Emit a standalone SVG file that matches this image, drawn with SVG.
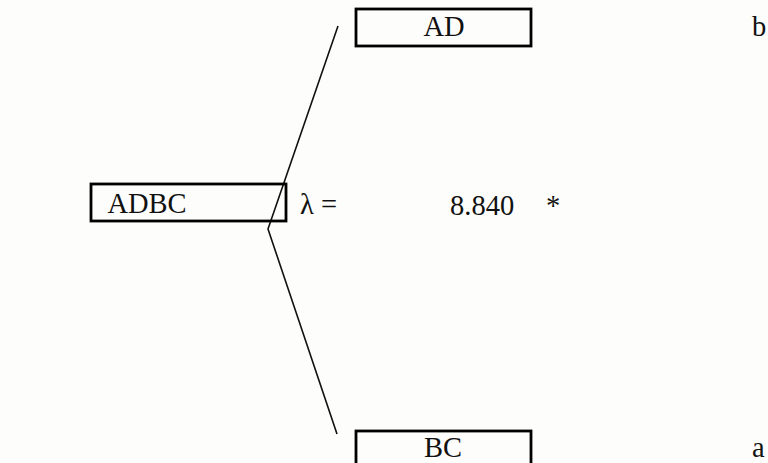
<svg xmlns="http://www.w3.org/2000/svg" width="768" height="463" viewBox="0 0 768 463">
<style>
.box{fill:none;stroke:#000;stroke-width:2.8}
.t{font-family:"Liberation Serif","Times New Roman",serif;font-size:28.5px;fill:#111}
.c{text-anchor:middle}
.ln{fill:none;stroke:#111;stroke-width:1.6}
</style>
<rect width="768" height="463" fill="#fdfdfb"/>
<g id="connectors">
<polyline class="ln" points="338,26 268,229 337,434"/>
</g>
<g id="node-ADBC">
<rect class="box" x="91" y="184" width="195" height="37"/>
<text class="t c" x="147" y="213">ADBC</text>
</g>
<g id="node-AD">
<rect class="box" x="356" y="9" width="175" height="37"/>
<text class="t c" x="444" y="36">AD</text>
</g>
<g id="node-BC">
<rect class="box" x="356" y="431" width="175" height="40"/>
<text class="t c" x="443" y="457">BC</text>
</g>
<g id="labels">
<text class="t" x="300" y="214">λ =</text>
<text class="t" x="450" y="215">8.840</text>
<text class="t" x="546" y="215">*</text>
<text class="t" x="752" y="36">b</text>
<text class="t" x="752" y="457">a</text>
</g>
</svg>
